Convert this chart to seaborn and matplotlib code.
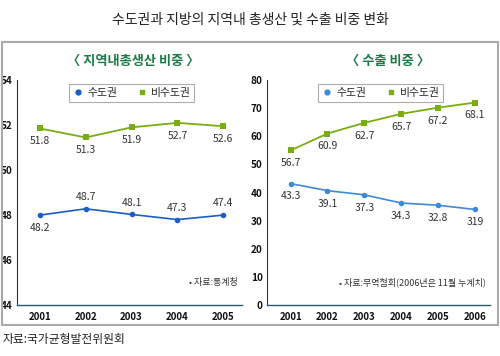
import matplotlib
matplotlib.use("Agg")
import matplotlib.pyplot as plt
import seaborn as sns
from matplotlib.lines import Line2D
from matplotlib.patches import Rectangle

sns.set_style("white")
plt.rcParams['font.family'] = ['Noto Sans CJK KR', 'DejaVu Sans']

# data
gdp_years = ['2001', '2002', '2003', '2004', '2005']
gdp_capital = [48.0, 48.28, 48.03, 47.8, 48.0]        # plotted position
gdp_capital_lbl = ['48.2', '48.7', '48.1', '47.3', '47.4']
gdp_noncap = [51.85, 51.45, 51.9, 52.1, 51.95]
gdp_noncap_lbl = ['51.8', '51.3', '51.9', '52.7', '52.6']

exp_years = ['2001', '2002', '2003', '2004', '2005', '2006']
exp_capital = [43.2, 40.7, 39.2, 36.3, 35.5, 34.0]
exp_capital_lbl = ['43.3', '39.1', '37.3', '34.3', '32.8', '319']
exp_noncap = [55.0, 61.0, 64.8, 68.0, 70.2, 72.0]
exp_noncap_lbl = ['56.7', '60.9', '62.7', '65.7', '67.2', '68.1']

BLUE = '#1a5cc8'
BLUE2 = '#3d8ad8'
GREEN = '#7aac14'
TXT = '#333333'

fig = plt.figure(figsize=(5, 3.56), dpi=100)

fig.text(0.5, 0.945, '수도권과 지방의 지역내 총생산 및 수출 비중 변화', ha='center', va='center',
         fontsize=10, color='#222222')
fig.patches.append(Rectangle((0.004, 0.087), 0.992, 0.795, transform=fig.transFigure,
                             fill=False, edgecolor='#aaaaaa', lw=1.5))
fig.text(0.266, 0.83, '〈 지역내총생산 비중 〉', ha='center', va='center',
         fontsize=9.5, color='#1a7a45', fontweight='bold')
fig.text(0.776, 0.83, '〈 수출 비중 〉', ha='center', va='center',
         fontsize=9.5, color='#1a7a45', fontweight='bold')
fig.text(0.006, 0.045, '자료:국가균형발전위원회', ha='left', va='center', fontsize=8.5, color='#222222')


def panel(ax, years, cap, cap_lbl, non, non_lbl, ylim, yticks, cap_color, cap_above, note):
    x = list(range(len(years)))
    sns.lineplot(x=x, y=non, ax=ax, color=GREEN, marker='s', markersize=4,
                 markeredgewidth=0, lw=1.3)
    sns.lineplot(x=x, y=cap, ax=ax, color=cap_color, marker='o', markersize=4,
                 markeredgewidth=0, lw=1.2)
    span = ylim[1] - ylim[0]
    for xi, v, t in zip(x, non, non_lbl):
        ax.text(xi, v - span * 0.035, t, ha='center', va='top', fontsize=7.5, color=TXT)
    for xi, v, t, up in zip(x, cap, cap_lbl, cap_above):
        if up:
            ax.text(xi, v + span * 0.03, t, ha='center', va='bottom', fontsize=7.5, color=TXT)
        else:
            ax.text(xi, v - span * 0.035, t, ha='center', va='top', fontsize=7.5, color=TXT)
    ax.set_ylim(*ylim)
    ax.set_yticks(yticks)
    ax.set_xticks(x)
    ax.set_xticklabels(years)
    for s in ['top', 'right']:
        ax.spines[s].set_visible(False)
    ax.spines['left'].set_color('#333333')
    ax.spines['bottom'].set_color('#2a5a6a')
    ax.spines['left'].set_linewidth(0.8)
    ax.spines['bottom'].set_linewidth(1.0)
    ax.tick_params(axis='y', length=3, width=0.6, direction='in', pad=3,
                   labelsize=7.2, labelcolor='#111111')
    ax.tick_params(axis='x', length=0, pad=5, labelsize=7, labelcolor='#111111')
    for lab in ax.get_xticklabels() + ax.get_yticklabels():
        lab.set_fontweight('bold')
    handles = [Line2D([], [], ls='none', marker='o', color=cap_color, markersize=3.5),
               Line2D([], [], ls='none', marker='s', color=GREEN, markersize=3.5)]
    leg = ax.legend(handles, ['수도권', '비수도권'], loc='upper center', ncol=2,
                    bbox_to_anchor=(0.51, 1.005), fontsize=7.8, frameon=True,
                    fancybox=False, edgecolor='#999999', handletextpad=0.3,
                    columnspacing=1.8, borderpad=0.35, handlelength=1.0)
    leg.get_frame().set_linewidth(0.8)
    ax.text(0.98, 0.1, note, transform=ax.transAxes, ha='right', va='center',
            fontsize=6.5, color=TXT)


ax1 = fig.add_axes([0.034, 0.143, 0.45, 0.632])
ax1.set_xlim(-0.5, 4.41)
panel(ax1, gdp_years, gdp_capital, gdp_capital_lbl, gdp_noncap, gdp_noncap_lbl,
      (44, 54), [44, 46, 48, 50, 52, 54], BLUE, [False, True, True, True, True], '• 자료:통계청')

ax2 = fig.add_axes([0.534, 0.143, 0.446, 0.632])
ax2.set_xlim(-0.64, 5.41)
panel(ax2, exp_years, exp_capital, exp_capital_lbl, exp_noncap, exp_noncap_lbl,
      (0, 80), list(range(0, 81, 10)), BLUE2, [False] * 6, '• 자료:무역협회(2006년은 11월 누계치)')

fig.savefig('out.png', dpi=100)
